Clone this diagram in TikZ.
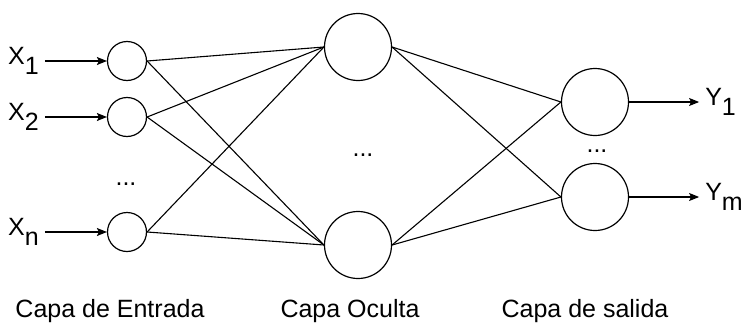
\documentclass[tikz,border=0pt]{standalone}
\usepackage{fontspec}
\setmainfont{Liberation Sans}
\usetikzlibrary{arrows.meta,positioning}
\begin{document}
\begin{tikzpicture}[x=1pt,y=-1pt,
    neuron/.style={draw, circle, line width=1.2pt, inner sep=0pt},
    small/.style={neuron, minimum size=39pt},
    big/.style={neuron, minimum size=67pt},
    link/.style={line width=1.1pt},
    arr/.style={line width=1.1pt, -{Stealth[length=10pt,width=8pt,inset=2pt]}},
    lbl/.style={font=\fontsize{25}{30}\selectfont, inner ysep=3pt, inner xsep=6pt}]
    \useasboundingbox (0,0) rectangle (743,324);

    % Capa de entrada
    \node[small] (i1) at (127,61) {};
    \node[small] (i2) at (127,117) {};
    \node[small] (in) at (127,232) {};
    \node[lbl] (di) at (126,184) {...};

    % Capa oculta
    \node[big] (h1) at (358,47) {};
    \node[big] (h2) at (358,245) {};
    \node[lbl] (dh) at (363,155) {...};

    % Capa de salida
    \node[big] (o1) at (595,102) {};
    \node[big] (o2) at (595,197) {};
    \node[lbl] (do) at (597,151) {...};

    % Entradas
    \node[lbl, anchor=east] (x1) at ([xshift=-62pt]i1.west) {X\raisebox{-10pt}{1}};
    \node[lbl, anchor=east] (x2) at ([xshift=-62pt]i2.west) {X\raisebox{-10pt}{2}};
    \node[lbl, anchor=east] (xn) at ([xshift=-62pt]in.west) {X\raisebox{-10pt}{n}};
    \foreach \a/\b in {x1/i1, x2/i2, xn/in}
        \draw[arr] (\a.east) -- (\b.west);

    % Conexiones
    \foreach \i in {i1,i2,in}
        \foreach \h in {h1,h2}
            \draw[link] (\i.east) -- (\h.west);
    \foreach \h in {h1,h2}
        \foreach \o in {o1,o2}
            \draw[link] (\h.east) -- (\o.west);

    % Salidas
    \node[lbl, anchor=west] (y1) at ([xshift=70pt]o1.east) {Y\raisebox{-10pt}{1}};
    \node[lbl, anchor=west] (ym) at ([xshift=70pt]o2.east) {Y\raisebox{-10pt}{m}};
    \draw[arr] (o1.east) -- (y1.west);
    \draw[arr] (o2.east) -- (ym.west);

    \node[lbl] (ce) at (110,311) {Capa de Entrada};
    \node[lbl] (co) at (350,311) {Capa Oculta};
    \node[lbl] (cs) at (585,311) {Capa de salida};
\end{tikzpicture}
\end{document}
